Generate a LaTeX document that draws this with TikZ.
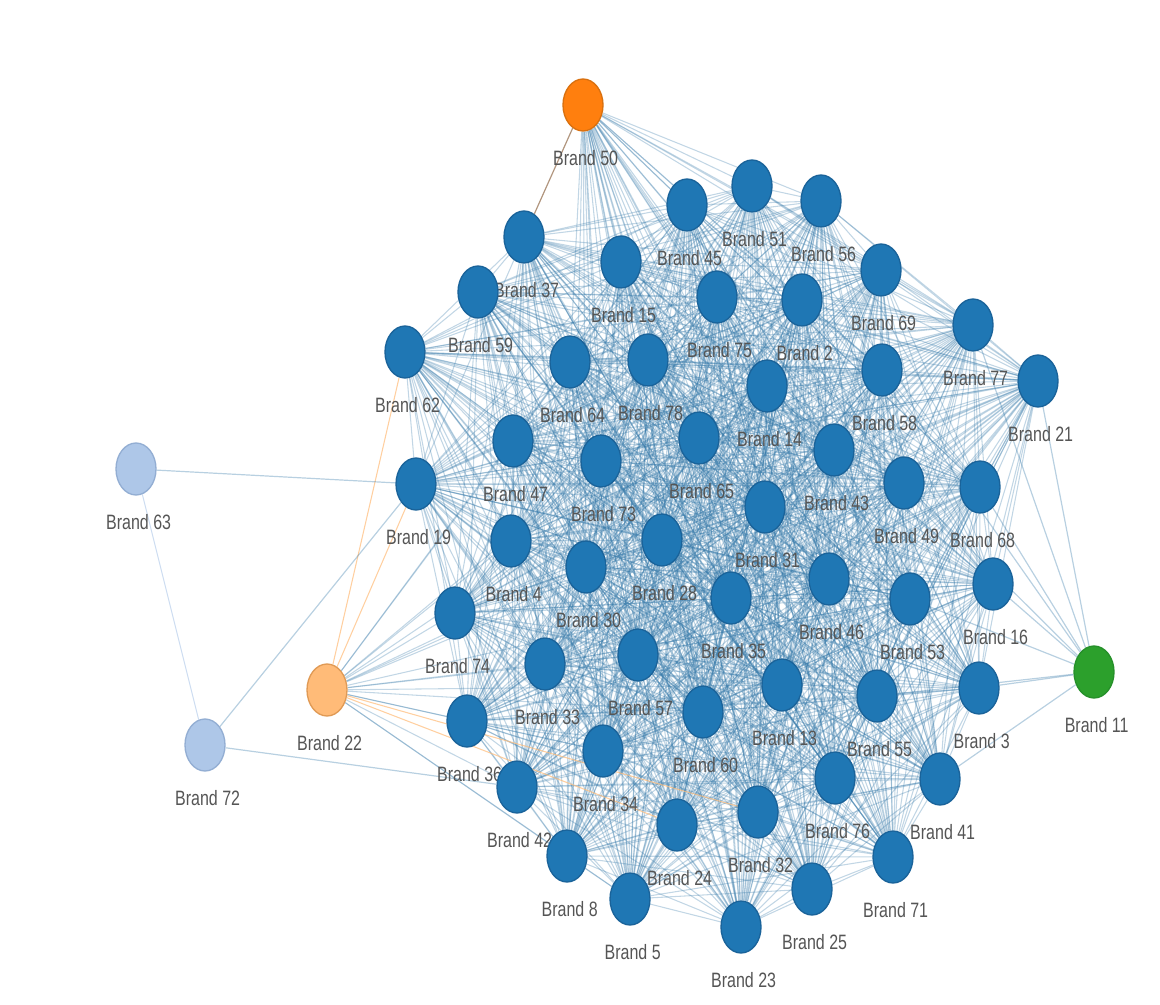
\documentclass[tikz,border=0pt]{standalone}
\usepackage{fontspec}
\setmainfont{Liberation Sans}
\usetikzlibrary{shapes.geometric}
\pgfdeclarelayer{bg}
\pgfsetlayers{bg,main}
\definecolor{cblue}{HTML}{1F77B4}
\definecolor{cedge}{HTML}{3478A8}
\definecolor{cbluedark}{HTML}{1A639A}
\definecolor{corange}{HTML}{FF7F0E}
\definecolor{corangedark}{HTML}{D9700F}
\definecolor{clorange}{HTML}{FFBB78}
\definecolor{clorangedark}{HTML}{E09A55}
\definecolor{cgreen}{HTML}{2CA02C}
\definecolor{cgreendark}{HTML}{26902A}
\definecolor{clblue}{HTML}{AEC7E8}
\definecolor{clbluedark}{HTML}{93AED3}
\definecolor{labgray}{HTML}{555555}
\definecolor{cbrown}{HTML}{A88A70}
\newcommand\tallbrand[1]{\scalebox{1}[1.3]{Brand #1}}
\tikzset{
  brandnode/.style={ellipse, minimum width=30pt, minimum height=39pt, inner sep=0pt, line width=1pt},
  bluenode/.style={brandnode, fill=cblue, draw=cbluedark},
  orangenode/.style={brandnode, fill=corange, draw=corangedark},
  lorangenode/.style={brandnode, fill=clorange, draw=clorangedark},
  greennode/.style={brandnode, fill=cgreen, draw=cgreendark},
  lbluenode/.style={brandnode, fill=clblue, draw=clbluedark},
  lab/.style={font=\fontsize{12}{14}\selectfont, text=labgray, inner sep=0pt, label distance=13.5pt, xshift=2pt},
  blink/.style={draw=cedge, draw opacity=0.3, line width=0.8pt},
  solelink/.style={draw=cedge, draw opacity=0.35, line width=0.9pt},
  olink/.style={draw=clorange, draw opacity=0.7, line width=0.8pt},
  brlink/.style={draw=cbrown, draw opacity=0.9, line width=0.9pt},
  faintlink/.style={draw=clblue, draw opacity=0.6, line width=0.8pt},
}
\begin{document}
\begin{tikzpicture}[x=0.75pt,y=-0.75pt]
\useasboundingbox (0,0) rectangle (1160,1005);
% blue nodes
\foreach \n/\px/\py in {51/752/186, 45/687/205, 56/821/201, 37/524/237, 15/621/262,
  69/881/270, 59/478/292, 75/717/297, 2/802/300, 77/973/325, 62/405/352, 64/570/362,
  78/648/360, 14/767/386, 58/882/370, 21/1038/381, 47/513/441, 65/699/438, 73/601/461,
  43/834/450, 19/416/484, 49/904/483, 68/980/487, 31/765/507, 28/662/540, 4/511/541,
  30/586/567, 46/829/579, 16/993/584, 53/910/599, 35/731/598, 74/455/613, 33/545/664,
  57/638/655, 13/782/685, 55/877/696, 3/979/688, 36/467/721, 60/703/712, 34/603/751,
  42/517/787, 76/835/778, 41/940/779, 24/677/825, 32/758/812, 8/567/856, 71/893/857,
  5/630/899, 25/812/889, 23/741/927}
  \node[bluenode, label={[lab]below:\tallbrand{\n}}] (b\n) at (\px,\py) {};
% special nodes
\node[orangenode, label={[lab]below:\tallbrand{50}}] (b50) at (583,105) {};
\node[lorangenode, label={[lab]below:\tallbrand{22}}] (b22) at (327,690) {};
\node[greennode, label={[lab]below:\tallbrand{11}}] (b11) at (1094,672) {};
\node[lbluenode, label={[lab]below:\tallbrand{63}}] (b63) at (136,469) {};
\node[lbluenode, label={[lab]below:\tallbrand{72}}] (b72) at (205,745) {};
\def\bluelist{51,45,56,37,15,69,59,75,2,77,62,64,78,14,58,21,47,65,73,43,19,49,68,31,28,4,30,46,16,53,35,74,33,57,13,55,3,36,60,34,42,76,41,24,32,8,71,5,25,23}
\begin{pgfonlayer}{bg}
  \foreach \a [count=\i] in \bluelist {
    \foreach \b [count=\j] in \bluelist {
      \ifnum\j>\i \draw[blink] (b\a) -- (b\b);\fi
    }
  }
  \foreach \b in {51,45,56,15,69,75,2,77,64,78,14,58,21,65,73,43,49,68,31,28,30,46,16,53,35,57,13,55,3,60,34,76,41,24,32,8,71,5,25,23}
    \draw[blink] (b50) -- (b\b);
  \draw[brlink] (b50) -- (b37);
  \foreach \b in {74,4,47,36,42,33,30,73,28,57,34,60,8,64,65,31,35,13,5}
    \draw[blink] (b22) -- (b\b);
  \foreach \b in {62,19,24,32}
    \draw[olink] (b22) -- (b\b);
  \foreach \b in {21,77,58,49,68,16,53,3,41,55}
    \draw[solelink] (b11) -- (b\b);
  \draw[solelink] (b63) -- (b19);
  \draw[faintlink] (b63) -- (b72);
  \draw[solelink] (b72) -- (b19);
  \draw[solelink] (b72) -- (b42);
\end{pgfonlayer}
\end{tikzpicture}
\end{document}
